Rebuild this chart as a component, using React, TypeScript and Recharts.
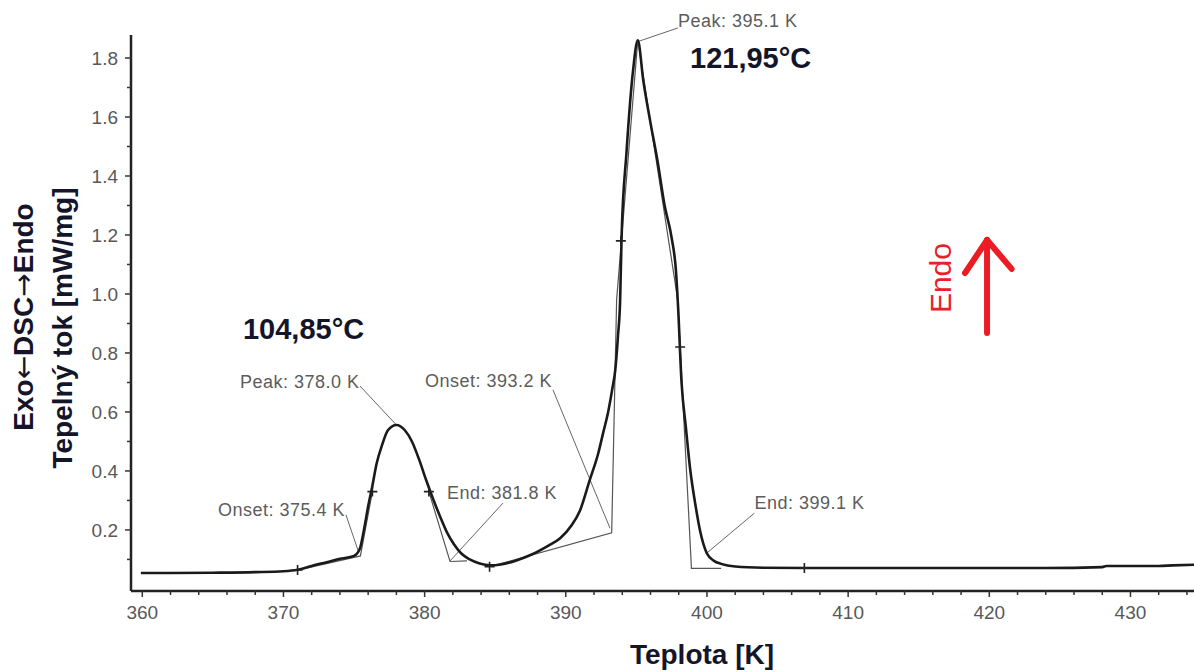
import { ComposedChart, Line, Scatter, XAxis, YAxis, ReferenceLine, ReferenceDot } from "recharts";

// DSC curve (K, mW/mg)
const temperatureK = [359.9, 362, 365, 368, 370, 371, 372, 373, 374, 375, 375.4, 375.7, 376.0, 376.3, 376.6, 377.0, 377.4, 378.0, 378.6, 379.1, 379.6, 380.1, 380.6, 381.1, 381.6, 382.1, 382.6, 383.2, 383.9, 384.6, 385.4, 386.4, 387.5, 388.8, 389.6, 390.4, 391.0, 391.7, 392.3, 392.65, 393.0, 393.3, 393.5, 393.7, 393.85, 393.95, 394.3, 394.77, 395.1, 395.5, 396.0, 396.5, 397.0, 397.5, 397.8, 397.95, 398.2, 398.5, 398.8, 399.2, 399.5, 400.0, 400.5, 401.0, 402.0, 404.0, 407.0, 415.0, 424.0, 428.0, 428.3, 432.0, 433.0, 434.5];
const heatFlow = [0.054, 0.054, 0.055, 0.057, 0.060, 0.065, 0.078, 0.090, 0.102, 0.112, 0.135, 0.200, 0.280, 0.350, 0.425, 0.490, 0.538, 0.556, 0.538, 0.500, 0.440, 0.370, 0.305, 0.245, 0.190, 0.150, 0.120, 0.100, 0.086, 0.080, 0.083, 0.095, 0.115, 0.148, 0.172, 0.215, 0.265, 0.370, 0.460, 0.530, 0.600, 0.680, 0.740, 0.860, 0.980, 1.190, 1.480, 1.760, 1.860, 1.720, 1.580, 1.450, 1.300, 1.190, 1.080, 0.960, 0.700, 0.550, 0.410, 0.280, 0.200, 0.120, 0.095, 0.085, 0.076, 0.072, 0.071, 0.071, 0.071, 0.074, 0.078, 0.078, 0.080, 0.082];

// evaluation construction lines (baselines + tangents)
const peak1Onset = [{ x: 371.0, y: 0.064 }, { x: 375.45, y: 0.112 }, { x: 376.3, y: 0.33 }];
const peak1End = [{ x: 380.3, y: 0.33 }, { x: 381.8, y: 0.093 }, { x: 383.0, y: 0.095 }];
const peak2Frame = [{ x: 384.8, y: 0.078 }, { x: 393.25, y: 0.19 }, { x: 393.6, y: 0.98 }, { x: 395.1, y: 1.86 }, { x: 397.93, y: 0.98 }, { x: 398.9, y: 0.07 }, { x: 401.0, y: 0.07 }];

// small "+" marks on the curve
const markerPoints = [{ x: 371.0, y: 0.064 }, { x: 376.3, y: 0.33 }, { x: 380.3, y: 0.33 }, { x: 384.6, y: 0.075 }, { x: 393.9, y: 1.18 }, { x: 398.1, y: 0.82 }, { x: 406.9, y: 0.071 }];

// evaluated events and where they point on the curve
const eventLabels = ["Peak: 378.0 K", "Onset: 375.4 K", "End: 381.8 K", "Onset: 393.2 K", "Peak: 395.1 K", "End: 399.1 K"];
const eventPoints = [{ x: 378.0, y: 0.556 }, { x: 375.28, y: 0.131 }, { x: 381.8, y: 0.095 }, { x: 393.13, y: 0.206 }, { x: 395.06, y: 1.855 }, { x: 400.0, y: 0.122 }];

const peakCelsius = ["104,85°C", "121,95°C"];

const xTicks = [360, 362, 364, 366, 368, 370, 372, 374, 376, 378, 380, 382, 384, 386, 388, 390, 392, 394, 396, 398, 400, 402, 404, 406, 408, 410, 412, 414, 416, 418, 420, 422, 424, 426, 428, 430, 432, 434];
const yTicks = [0.1, 0.2, 0.3, 0.4, 0.5, 0.6, 0.7, 0.8, 0.9, 1.0, 1.1, 1.2, 1.3, 1.4, 1.5, 1.6, 1.7, 1.8];

const curveData = temperatureK.map((x, i) => ({ x, y: heatFlow[i] }));

const FONT = "'Liberation Sans', Arial, sans-serif";
const ARROW_FONT = "'DejaVu Sans', sans-serif";
const TITLE = "#15152a";
const GRAY = "#585858";

// label text anchor + leader start, in data units
const eventPlacement = [
  { tx: 366.92, ty: 0.681, lx: 375.42, ly: 0.688 },
  { tx: 365.36, ty: 0.247, lx: 374.43, ly: 0.251 },
  { tx: 381.58, ty: 0.305, lx: 385.55, ly: 0.291 },
  { tx: 380.03, ty: 0.684, lx: 389.09, ly: 0.675 },
  { tx: 397.95, ty: 1.905, lx: 397.95, ly: 1.902 },
  { tx: 403.36, ty: 0.271, lx: 403.36, ly: 0.257 },
];
const celsiusPlacement = [{ tx: 367.13, ty: 0.846 }, { tx: 398.8, ty: 1.766 }];

const XTick = ({ x, y, payload }: any) => {
  const v = payload.value;
  const major = v % 10 === 0;
  return (
    <g>
      <line x1={x} y1={y} x2={x} y2={y + (major ? 6 : 4)} stroke="#333" strokeWidth={1.5} />
      {major && (
        <text x={x} y={y + 28} textAnchor="middle" fontSize={19} fill={GRAY} fontFamily={FONT}>{v}</text>
      )}
    </g>
  );
};

const YTick = ({ x, y, payload }: any) => {
  const v = payload.value;
  const major = Math.round(v * 10) % 2 === 0;
  return (
    <g>
      <line x1={x - (major ? 6 : 4)} y1={y} x2={x} y2={y} stroke="#333" strokeWidth={1.5} />
      {major && (
        <text x={x - 13} y={y + 7} textAnchor="end" fontSize={19} fill={GRAY} fontFamily={FONT}>{v.toFixed(1)}</text>
      )}
    </g>
  );
};

const Plus = (props: any) => {
  const { cx, cy } = props;
  return <path d={`M${cx - 5},${cy}h10M${cx},${cy - 5}v10`} stroke="#222" strokeWidth={1.6} fill="none" />;
};

const renderYTitle = () => (
  <g fontFamily={FONT} fontWeight="bold" fontSize={28} fill={TITLE}>
    <text x={33} y={317} textAnchor="middle" transform="rotate(-90, 33, 317)">
      Exo<tspan fontFamily={ARROW_FONT} fontWeight="normal">←</tspan>DSC<tspan fontFamily={ARROW_FONT} fontWeight="normal">→</tspan>Endo
    </text>
    <text x={72} y={328} textAnchor="middle" transform="rotate(-90, 72, 328)">Tepelný tok [mW/mg]</text>
  </g>
);

const renderXTitle = (props: any) => {
  const vb = props.viewBox || { y: 591 };
  return (
    <text x={702} y={vb.y + 73} textAnchor="middle" fontFamily={FONT} fontWeight="bold" fontSize={28} fill={TITLE}>
      Teplota [K]
    </text>
  );
};

export default function App() {
  return (
    <div style={{ position: "absolute", left: 0, top: 0, background: "#fff" }}>
      <ComposedChart width={1194} height={672} margin={{ top: 35, right: 0, bottom: 0, left: 0 }}>
        <XAxis
          type="number"
          dataKey="x"
          domain={[359.2, 434.5]}
          allowDataOverflow
          ticks={xTicks}
          interval={0}
          tickSize={0}
          tickMargin={0}
          tick={<XTick />}
          height={81}
          axisLine={{ stroke: "#222", strokeWidth: 2.5 }}
          tickLine={false}
          label={renderXTitle}
        />
        <YAxis
          type="number"
          domain={[-0.007, 1.878]}
          allowDataOverflow
          ticks={yTicks}
          interval={0}
          tickSize={0}
          tickMargin={0}
          tick={<YTick />}
          width={131}
          axisLine={{ stroke: "#222", strokeWidth: 2.5 }}
          tickLine={false}
          label={renderYTitle}
        />

        <Line data={peak1Onset} dataKey="y" type="linear" stroke="#555" strokeWidth={1.2} dot={false} activeDot={false} isAnimationActive={false} />
        <Line data={peak1End} dataKey="y" type="linear" stroke="#555" strokeWidth={1.2} dot={false} activeDot={false} isAnimationActive={false} />
        <Line data={peak2Frame} dataKey="y" type="linear" stroke="#555" strokeWidth={1.2} dot={false} activeDot={false} isAnimationActive={false} />

        {eventPoints.map((p, i) => (
          <ReferenceLine
            key={`lead-${i}`}
            segment={[{ x: eventPlacement[i].lx, y: eventPlacement[i].ly }, { x: p.x, y: p.y }]}
            stroke="#666"
            strokeWidth={1}
            ifOverflow="visible"
          />
        ))}

        <Line data={curveData} dataKey="y" type="monotone" stroke="#1a1a1a" strokeWidth={2.6} dot={false} activeDot={false} isAnimationActive={false} />
        <Scatter data={markerPoints} dataKey="y" shape={<Plus />} isAnimationActive={false} />

        {eventLabels.map((t, i) => (
          <ReferenceDot
            key={`ev-${i}`}
            x={eventPlacement[i].tx}
            y={eventPlacement[i].ty}
            ifOverflow="visible"
            shape={(p: any) => (
              <text x={p.cx} y={p.cy} fontSize={18} letterSpacing={0.5} fill="#5c5c5c" fontFamily={FONT}>{t}</text>
            )}
          />
        ))}

        {peakCelsius.map((t, i) => (
          <ReferenceDot
            key={`c-${i}`}
            x={celsiusPlacement[i].tx}
            y={celsiusPlacement[i].ty}
            ifOverflow="visible"
            shape={(p: any) => (
              <text x={p.cx} y={p.cy} fontSize={29} fontWeight="bold" fill={TITLE} fontFamily={FONT}>{t}</text>
            )}
          />
        ))}

        {/* Endo direction arrow */}
        <ReferenceDot
          x={417.29}
          y={1.054}
          ifOverflow="visible"
          shape={(p: any) => (
            <text x={p.cx} y={p.cy} textAnchor="middle" fontSize={30} fill="#e8202a" fontFamily={FONT} transform={`rotate(-90, ${p.cx}, ${p.cy})`}>Endo</text>
          )}
        />
        <ReferenceLine segment={[{ x: 419.84, y: 0.8675 }, { x: 419.84, y: 1.183 }]} stroke="#ec1c24" strokeWidth={6} strokeLinecap="round" ifOverflow="visible" />
        <ReferenceLine segment={[{ x: 418.28, y: 1.071 }, { x: 419.84, y: 1.183 }]} stroke="#ec1c24" strokeWidth={6} strokeLinecap="round" ifOverflow="visible" />
        <ReferenceLine segment={[{ x: 421.58, y: 1.085 }, { x: 419.84, y: 1.183 }]} stroke="#ec1c24" strokeWidth={6} strokeLinecap="round" ifOverflow="visible" />
      </ComposedChart>
    </div>
  );
}
